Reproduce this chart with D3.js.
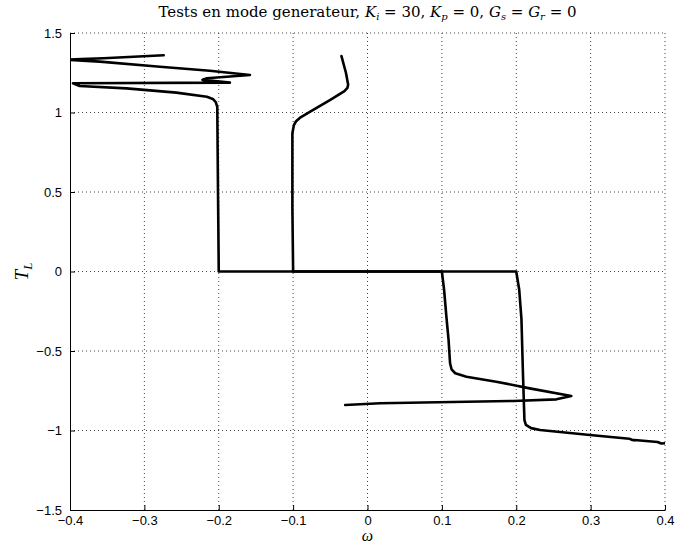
<!DOCTYPE html>
<html>
<head>
<meta charset="utf-8">
<script src="https://cdn.jsdelivr.net/npm/d3@7"></script>
<style>
  body { margin: 0; background: #fff; }
  .tick text { font-family: "Liberation Sans", Arial, sans-serif; font-size: 13px; fill: #000; }
  .grid line { stroke: #444; stroke-dasharray: 1,3; stroke-width: 1; }
</style>
</head>
<body>
<div id="chart"></div>
<script>
// curve 1 (inner loop)
var omega1 = [-0.035, -0.029, -0.026, -0.027, -0.031, -0.050, -0.077, -0.090, -0.096, -0.099, -0.101, -0.101, -0.100,
              0.100, 0.103, 0.106, 0.109, 0.111, 0.113, 0.118, 0.133, 0.173, 0.218, 0.274, 0.254, 0.196, 0.017, -0.030];
var tl1    = [1.355, 1.250, 1.175, 1.155, 1.135, 1.079, 1.005, 0.970, 0.945, 0.920, 0.870, 0.400, 0.000,
              0.000, -0.116, -0.280, -0.430, -0.577, -0.615, -0.640, -0.662, -0.693, -0.735, -0.783, -0.804, -0.814, -0.829, -0.840];

// curve 2 (outer loop)
var omega2 = [-0.274, -0.355, -0.385, -0.405, -0.360, -0.279, -0.212, -0.158, -0.216, -0.222,
              -0.185, -0.396, -0.387, -0.324, -0.257, -0.216, -0.208, -0.204, -0.202, -0.201, -0.200,
              0.200, 0.204, 0.207, 0.209, 0.211, 0.213, 0.220, 0.232, 0.299, 0.352, 0.358, 0.355, 0.390, 0.395, 0.402];
var tl2    = [1.360, 1.341, 1.336, 1.332, 1.320, 1.288, 1.263, 1.236, 1.215, 1.205,
              1.188, 1.184, 1.167, 1.152, 1.125, 1.099, 1.085, 1.065, 1.035, 0.500, 0.000,
              0.000, -0.115, -0.300, -0.640, -0.934, -0.965, -0.985, -0.997, -1.028, -1.052, -1.062, -1.058, -1.072, -1.082, -1.080];

var xTicks = [-0.4, -0.3, -0.2, -0.1, 0, 0.1, 0.2, 0.3, 0.4];
var yTicks = [-1.5, -1, -0.5, 0, 0.5, 1, 1.5];

var margin = {top: 33, right: 10, bottom: 37, left: 70},
    width = 675 - margin.left - margin.right,
    height = 547 - margin.top - margin.bottom;

var svg = d3.select("#chart").append("svg")
    .attr("width", 675)
    .attr("height", 547);

var g = svg.append("g")
    .attr("transform", "translate(" + margin.left + "," + margin.top + ")");

var x = d3.scaleLinear().domain([-0.4, 0.4]).range([0, width]);
var y = d3.scaleLinear().domain([-1.5, 1.5]).range([height, 0]);

var fmt = function(d) { return d3.format("")(d).replace("-", "\u2212"); };

// dotted grid
g.append("g").attr("class", "grid")
  .selectAll("line").data(xTicks.slice(1)).enter().append("line")
    .attr("x1", function(d) { return x(d); }).attr("x2", function(d) { return x(d); })
    .attr("y1", 0).attr("y2", height);
g.append("g").attr("class", "grid")
  .selectAll("line").data(yTicks.slice(1)).enter().append("line")
    .attr("y1", function(d) { return y(d); }).attr("y2", function(d) { return y(d); })
    .attr("x1", 0).attr("x2", width);

// axes
var xAxis = g.append("g")
    .attr("transform", "translate(0," + height + ")")
    .call(d3.axisBottom(x).tickValues(xTicks).tickFormat(fmt).tickSizeInner(-5).tickSizeOuter(0).tickPadding(6));
var yAxis = g.append("g")
    .call(d3.axisLeft(y).tickValues(yTicks).tickFormat(fmt).tickSizeInner(-5).tickSizeOuter(0).tickPadding(8));
xAxis.select(".domain").attr("stroke", "#000");
yAxis.select(".domain").attr("stroke", "#000");

// clip
g.append("clipPath").attr("id", "clip")
  .append("rect").attr("width", width).attr("height", height);

var line = d3.line()
    .x(function(d) { return x(d[0]); })
    .y(function(d) { return y(d[1]); });

[[omega1, tl1], [omega2, tl2]].forEach(function(c) {
  var pts = c[0].map(function(v, i) { return [v, c[1][i]]; });
  g.append("path")
    .datum(pts)
    .attr("clip-path", "url(#clip)")
    .attr("fill", "none")
    .attr("stroke", "#000")
    .attr("stroke-width", 2.6)
    .attr("stroke-linejoin", "round")
    .attr("stroke-linecap", "round")
    .attr("d", line);
});

// title
var title = svg.append("text")
    .attr("x", margin.left + width / 2)
    .attr("y", 17)
    .attr("text-anchor", "middle")
    .style("font-family", "'DejaVu Serif', 'Liberation Serif', serif")
    .style("font-size", "15px");
title.append("tspan").text("Tests en mode generateur, ");
title.append("tspan").attr("font-style", "italic").text("K");
title.append("tspan").attr("font-style", "italic").attr("font-size", "10px").attr("dy", 3).text("i");
title.append("tspan").attr("dy", -3).text(" = 30, ");
title.append("tspan").attr("font-style", "italic").text("K");
title.append("tspan").attr("font-style", "italic").attr("font-size", "10px").attr("dy", 3).text("p");
title.append("tspan").attr("dy", -3).text(" = 0, ");
title.append("tspan").attr("font-style", "italic").text("G");
title.append("tspan").attr("font-style", "italic").attr("font-size", "10px").attr("dy", 3).text("s");
title.append("tspan").attr("dy", -3).text(" = ");
title.append("tspan").attr("font-style", "italic").text("G");
title.append("tspan").attr("font-style", "italic").attr("font-size", "10px").attr("dy", 3).text("r");
title.append("tspan").attr("dy", -3).text(" = 0");

// axis labels
svg.append("text")
    .attr("x", margin.left + width / 2)
    .attr("y", 541)
    .attr("text-anchor", "middle")
    .style("font-family", "'Liberation Serif', serif")
    .style("font-style", "italic")
    .style("font-size", "16px")
    .text("\u03c9");

var yl = svg.append("text")
    .attr("transform", "translate(28," + (margin.top + height / 2) + ") rotate(-90)")
    .attr("text-anchor", "middle")
    .style("font-family", "'Liberation Serif', serif")
    .style("font-style", "italic")
    .style("font-size", "19px");
yl.append("tspan").text("T");
yl.append("tspan").attr("font-size", "13px").attr("dy", 4).text("L");
</script>
</body>
</html>
